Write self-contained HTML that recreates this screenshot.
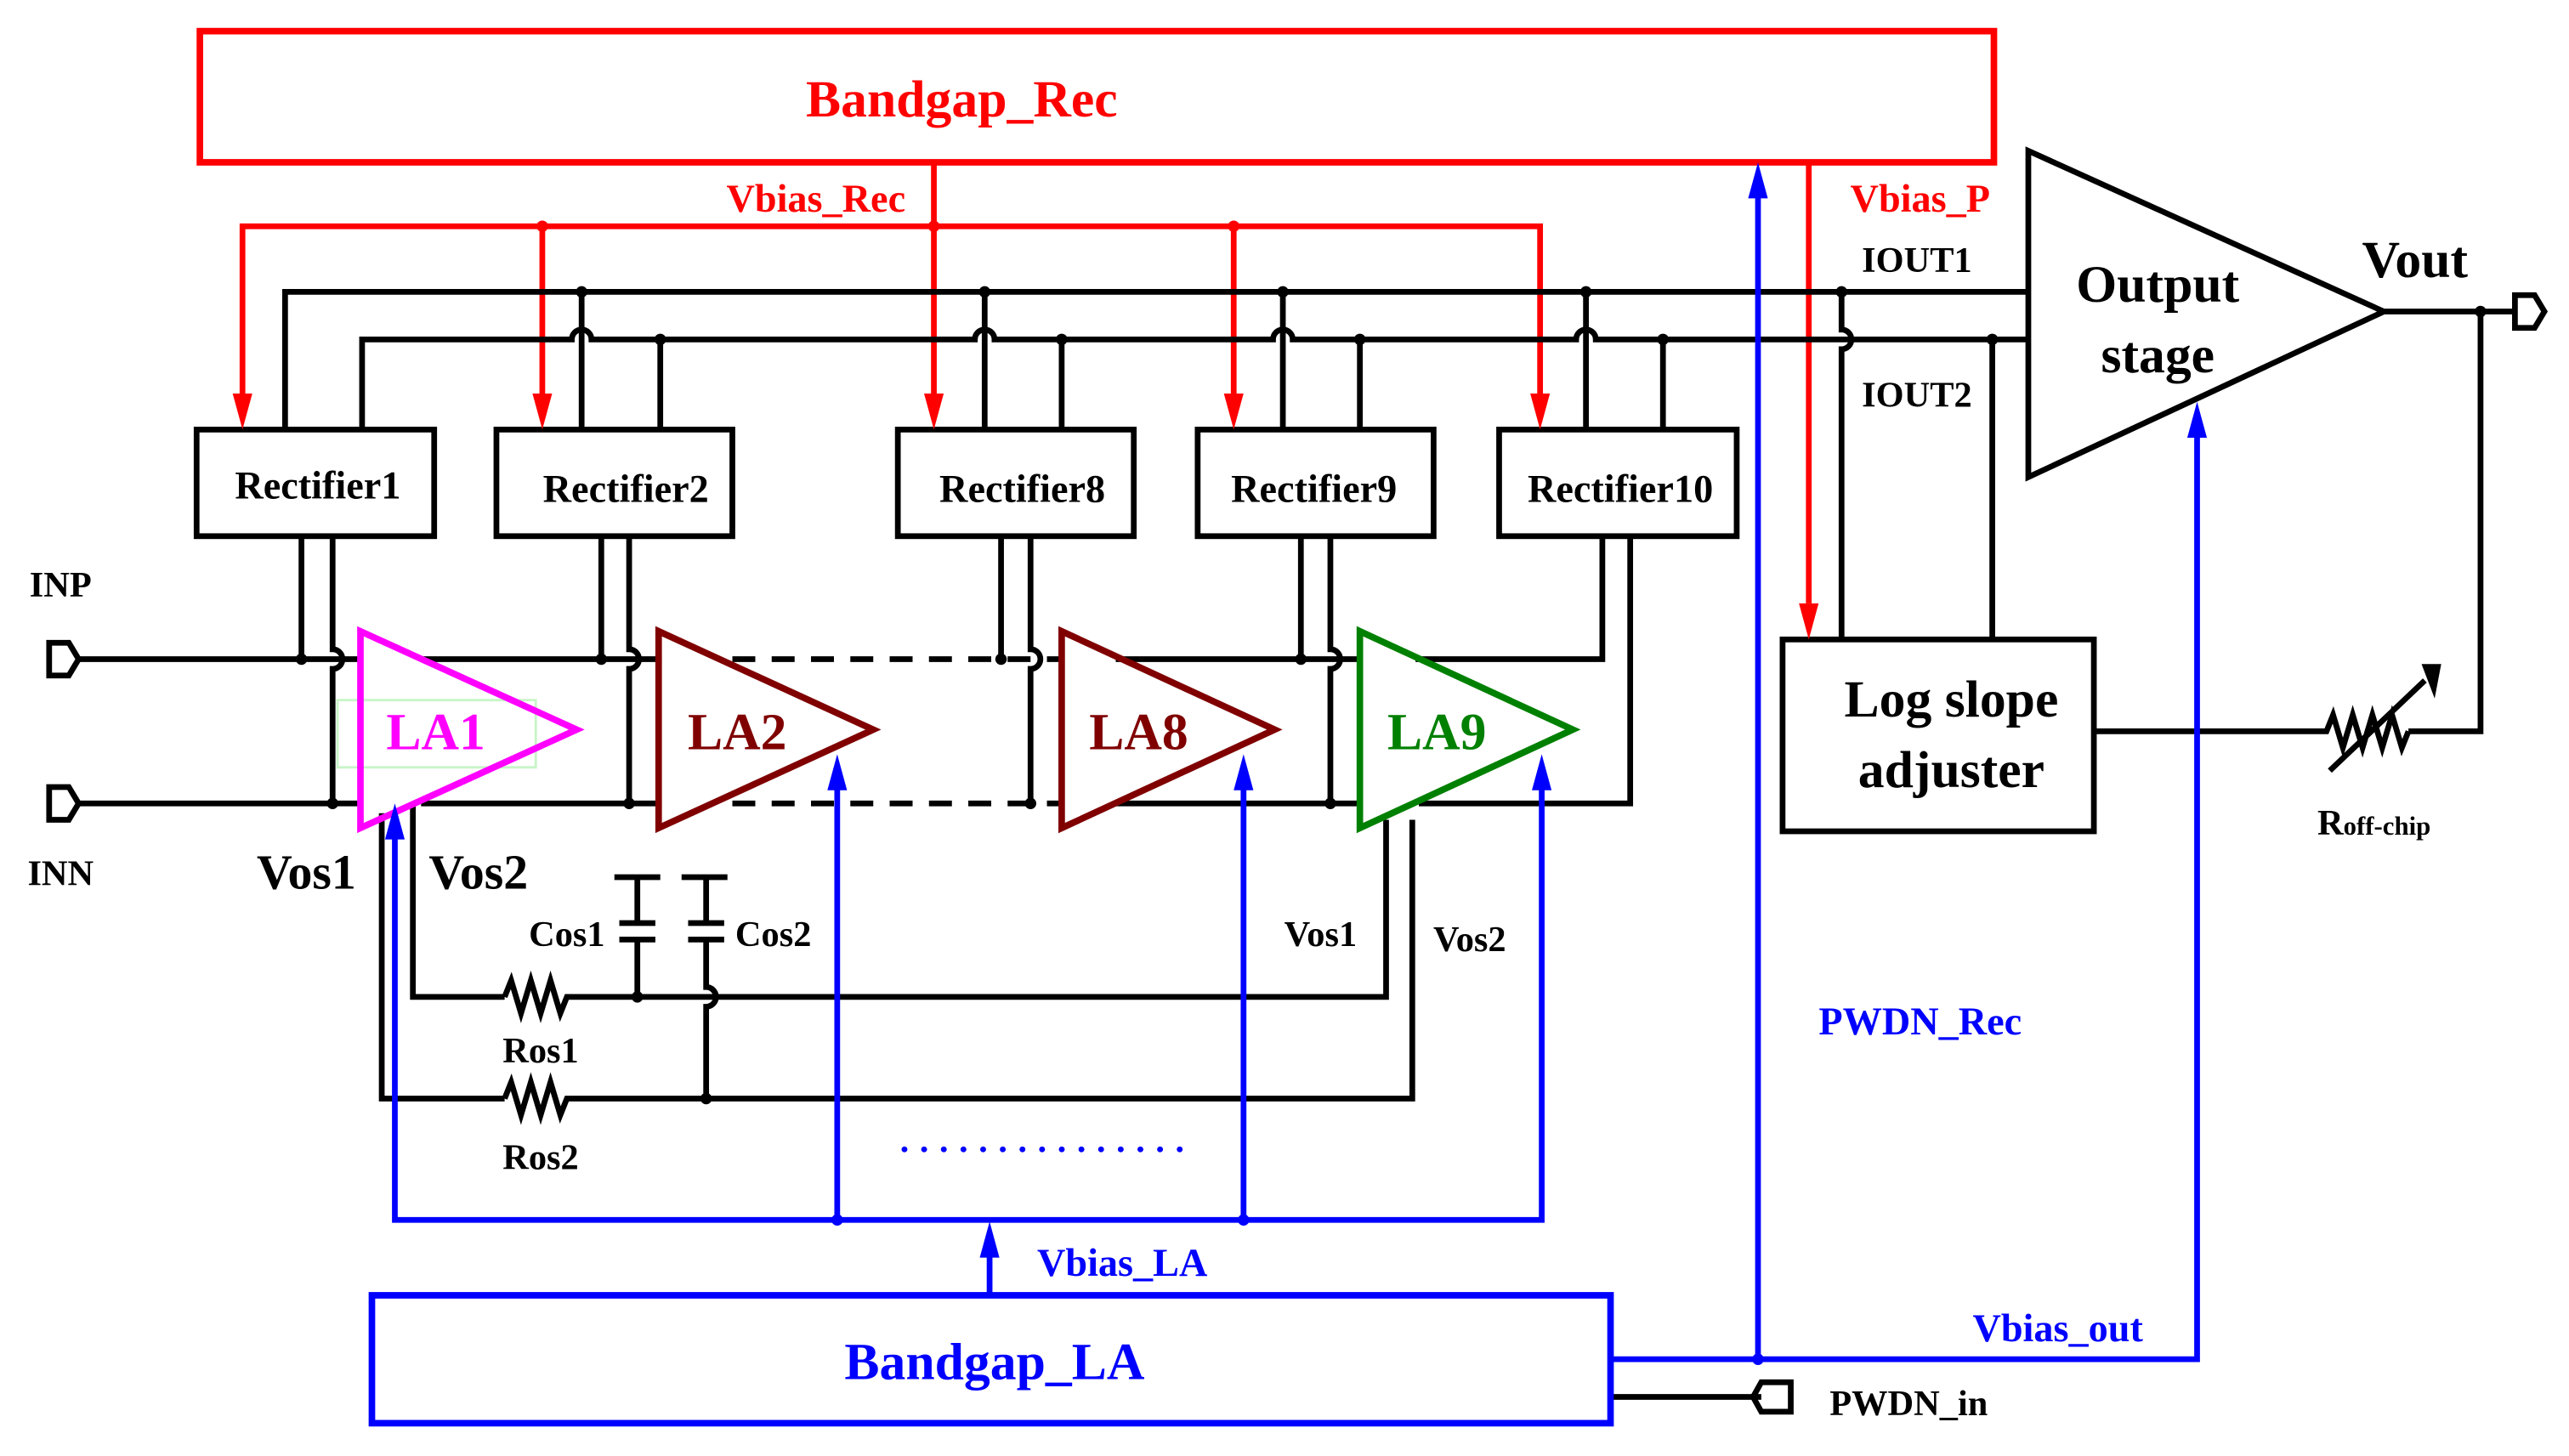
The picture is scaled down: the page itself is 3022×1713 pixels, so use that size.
<!DOCTYPE html>
<html><head><meta charset="utf-8"><style>
html,body{margin:0;padding:0;background:#fff}
svg{display:block}
text{font-family:"Liberation Serif",serif;font-weight:bold}
</style></head><body>
<svg width="3022" height="1713" viewBox="0 0 1568 888" preserveAspectRatio="none" xmlns="http://www.w3.org/2000/svg">
<g fill="none" stroke-linejoin="miter">
<rect x="122" y="19" width="1095" height="80" stroke="#f00" stroke-width="4"/>
<g stroke="#f00" stroke-width="3.5">
<line x1="570" y1="99" x2="570" y2="240"/>
<polyline points="148,240 148,138 940,138 940,240"/>
<line x1="331" y1="138" x2="331" y2="240"/>
<line x1="753" y1="138" x2="753" y2="240"/>
<line x1="1104" y1="99" x2="1104" y2="368"/>
</g>
<g stroke="#000" stroke-width="3.5">
<polyline points="174,262 174,178 1238,178"/>
<path d="M221,262 V207 H349 a6,6 0 0 1 12,0 H595 a6,6 0 0 1 12,0 H777 a6,6 0 0 1 12,0 H962 a6,6 0 0 1 12,0 H1238"/>
<line x1="355" y1="178" x2="355" y2="262"/><line x1="403" y1="207" x2="403" y2="262"/>
<line x1="601" y1="178" x2="601" y2="262"/><line x1="648" y1="207" x2="648" y2="262"/>
<line x1="783" y1="178" x2="783" y2="262"/><line x1="830" y1="207" x2="830" y2="262"/>
<line x1="968" y1="178" x2="968" y2="262"/><line x1="1015" y1="207" x2="1015" y2="262"/>
<path d="M1124,178 V201 a6,6 0 0 1 0,12 V390"/>
<line x1="1216" y1="207" x2="1216" y2="390"/>
<rect x="120" y="262" width="145" height="65"/>
<rect x="303" y="262" width="144" height="65"/>
<rect x="548" y="262" width="144" height="65"/>
<rect x="731" y="262" width="144" height="65"/>
<rect x="915" y="262" width="145" height="65"/>
<line x1="184" y1="327" x2="184" y2="402"/><path d="M203,327 V396 a6,6 0 0 1 0,12 V490"/>
<line x1="367" y1="327" x2="367" y2="402"/><path d="M384,327 V396 a6,6 0 0 1 0,12 V490"/>
<line x1="611" y1="327" x2="611" y2="402"/><path d="M629,327 V396 a6,6 0 0 1 0,12 V490"/>
<line x1="794" y1="327" x2="794" y2="402"/><path d="M812,327 V396 a6,6 0 0 1 0,12 V490"/>
<polyline points="978,327 978,402 864,402"/><polyline points="995,327 995,490 866,490"/>
<line x1="48" y1="402" x2="220" y2="402"/><line x1="257" y1="402" x2="402" y2="402"/>
<line x1="48" y1="490" x2="220" y2="490"/><line x1="257" y1="490" x2="402" y2="490"/>
<line x1="447" y1="402" x2="648" y2="402" stroke-dasharray="14,10"/>
<line x1="447" y1="490" x2="648" y2="490" stroke-dasharray="14,10"/>
<line x1="681" y1="402" x2="830" y2="402"/><line x1="681" y1="490" x2="830" y2="490"/>
<polygon points="30,392 42,392 48,402 42,412 30,412"/>
<polygon points="30,480 42,480 48,490 42,500 30,500"/>
<polyline points="233,496 233,670 308,670"/>
<polyline points="252,490 252,608 308,608"/>
<polyline points="308,608 312,598 318,618 324,598 330,618 336,598 342,618 346,608 846,608 846,500"/>
<polyline points="308,670 312,660 318,680 324,660 330,680 336,660 342,680 346,670 862,670 862,500"/>
<line x1="375" y1="535" x2="403" y2="535"/><line x1="389" y1="535" x2="389" y2="563"/>
<line x1="378" y1="563" x2="400" y2="563"/><line x1="378" y1="573" x2="400" y2="573"/>
<line x1="389" y1="573" x2="389" y2="608"/>
<line x1="416" y1="535" x2="444" y2="535"/><line x1="431" y1="535" x2="431" y2="563"/>
<line x1="420" y1="563" x2="442" y2="563"/><line x1="420" y1="573" x2="442" y2="573"/>
<path d="M431,573 V602 a6,6 0 0 1 0,12 V670"/>
<rect x="1088" y="390" width="190" height="117"/>
<polygon points="1238,92 1238,291 1455,190"/>
<line x1="1455" y1="190" x2="1535" y2="190"/>
<polygon points="1535,180 1547,180 1553,190 1547,200 1535,200"/>
<polyline points="1514,190 1514,446 1470,446"/>
<polyline points="1278,446 1420,446 1424,436 1430,456 1436,436 1442,456 1448,436 1454,456 1460,436 1466,456 1470,446"/>
<line x1="1422" y1="470" x2="1480" y2="415"/>
<line x1="983" y1="852" x2="1075" y2="852"/>
<polygon points="1075,843 1093,843 1093,861 1075,861 1070,852"/>
</g>
<rect x="206" y="427" width="121" height="41" fill="none" stroke="#c8f5c8" stroke-width="1.5"/>
<polygon points="220,385 220,505 352,445" fill="none" stroke="#f0f" stroke-width="4"/>
<polygon points="402,385 402,505 533,445" fill="none" stroke="#800000" stroke-width="4"/>
<polygon points="648,385 648,505 778,445" fill="none" stroke="#800000" stroke-width="4"/>
<polygon points="830,385 830,505 960,445" fill="none" stroke="#008000" stroke-width="4"/>
<g fill="none" stroke="#00f" stroke-width="3.5">
<rect x="227" y="790" width="756" height="78" stroke-width="4"/>
<line x1="604" y1="790" x2="604" y2="760"/>
<polyline points="241,505 241,744 941,744 941,475"/>
<line x1="511" y1="744" x2="511" y2="475"/>
<line x1="759" y1="744" x2="759" y2="475"/>
<polyline points="983,829 1341,829 1341,262"/>
<line x1="1073" y1="829" x2="1073" y2="118"/>
<line x1="552" y1="701" x2="722" y2="701" stroke-width="3.5" stroke-dasharray="0.1,11.9" stroke-linecap="round"/>
</g>
<g fill="#00f">
<polygon points="235,512 247,512 241,490"/>
<polygon points="505,482 517,482 511,460"/>
<polygon points="753,482 765,482 759,460"/>
<polygon points="935,482 947,482 941,460"/>
<polygon points="598,767 610,767 604,745"/>
<polygon points="1067,121 1079,121 1073,99"/>
<polygon points="1335,267 1347,267 1341,245"/>
<circle cx="511" cy="744" r="3.5"/><circle cx="759" cy="744" r="3.5"/><circle cx="1073" cy="829" r="3.5"/>
</g>
<g fill="#f00">
<polygon points="142,240 154,240 148,262"/>
<polygon points="325,240 337,240 331,262"/>
<polygon points="564,240 576,240 570,262"/>
<polygon points="747,240 759,240 753,262"/>
<polygon points="934,240 946,240 940,262"/>
<polygon points="1098,368 1110,368 1104,390"/>
<circle cx="331" cy="138" r="3.5"/><circle cx="570" cy="138" r="3.5"/><circle cx="753" cy="138" r="3.5"/>
</g>
<g fill="#000">
<polygon points="1478,405 1490,405 1486,426"/>
<circle cx="355" cy="178" r="3.5"/><circle cx="601" cy="178" r="3.5"/><circle cx="783" cy="178" r="3.5"/><circle cx="968" cy="178" r="3.5"/><circle cx="1124" cy="178" r="3.5"/>
<circle cx="403" cy="207" r="3.5"/><circle cx="648" cy="207" r="3.5"/><circle cx="830" cy="207" r="3.5"/><circle cx="1015" cy="207" r="3.5"/><circle cx="1216" cy="207" r="3.5"/>
<circle cx="184" cy="402" r="3.5"/><circle cx="367" cy="402" r="3.5"/><circle cx="611" cy="402" r="3.5"/><circle cx="794" cy="402" r="3.5"/>
<circle cx="203" cy="490" r="3.5"/><circle cx="384" cy="490" r="3.5"/><circle cx="629" cy="490" r="3.5"/><circle cx="812" cy="490" r="3.5"/>
<circle cx="389" cy="608" r="3.5"/><circle cx="431" cy="670" r="3.5"/><circle cx="1514" cy="190" r="3.5"/>
</g>
<g text-anchor="middle" fill="#000">
<text x="587" y="71" font-size="32" fill="#f00">Bandgap_Rec</text>
<text x="498" y="129" font-size="24" fill="#f00">Vbias_Rec</text>
<text x="1172" y="129" font-size="24" fill="#f00">Vbias_P</text>
<text x="194" y="304" font-size="24">Rectifier1</text>
<text x="382" y="306" font-size="24">Rectifier2</text>
<text x="624" y="306" font-size="24">Rectifier8</text>
<text x="802" y="306" font-size="24">Rectifier9</text>
<text x="989" y="306" font-size="24">Rectifier10</text>
<text x="266" y="457" font-size="32" fill="#f0f">LA1</text>
<text x="450" y="457" font-size="32" fill="#800000">LA2</text>
<text x="695" y="457" font-size="32" fill="#800000">LA8</text>
<text x="877" y="457" font-size="32" fill="#008000">LA9</text>
<text x="37" y="364" font-size="22">INP</text>
<text x="37" y="540" font-size="22">INN</text>
<text x="187" y="542" font-size="30">Vos1</text>
<text x="292" y="542" font-size="30">Vos2</text>
<text x="346" y="577" font-size="22">Cos1</text>
<text x="472" y="577" font-size="22">Cos2</text>
<text x="330" y="648" font-size="22">Ros1</text>
<text x="330" y="713" font-size="22">Ros2</text>
<text x="806" y="577" font-size="22">Vos1</text>
<text x="897" y="580" font-size="22">Vos2</text>
<text x="1170" y="166" font-size="22">IOUT1</text>
<text x="1170" y="248" font-size="22">IOUT2</text>
<text x="1317" y="184" font-size="32">Output</text>
<text x="1317" y="227" font-size="32">stage</text>
<text x="1474" y="169" font-size="32">Vout</text>
<text x="1191" y="437" font-size="32">Log slope</text>
<text x="1191" y="480" font-size="32">adjuster</text>
<text x="1449" y="509" font-size="22">R<tspan font-size="16">off-chip</tspan></text>
<text x="607" y="841" font-size="32" fill="#00f">Bandgap_LA</text>
<text x="685" y="778" font-size="24" fill="#00f">Vbias_LA</text>
<text x="1256" y="818" font-size="24" fill="#00f">Vbias_out</text>
<text x="1172" y="631" font-size="24" fill="#00f">PWDN_Rec</text>
<text x="1165" y="863" font-size="22">PWDN_in</text>
</g>
</svg>
</body></html>
